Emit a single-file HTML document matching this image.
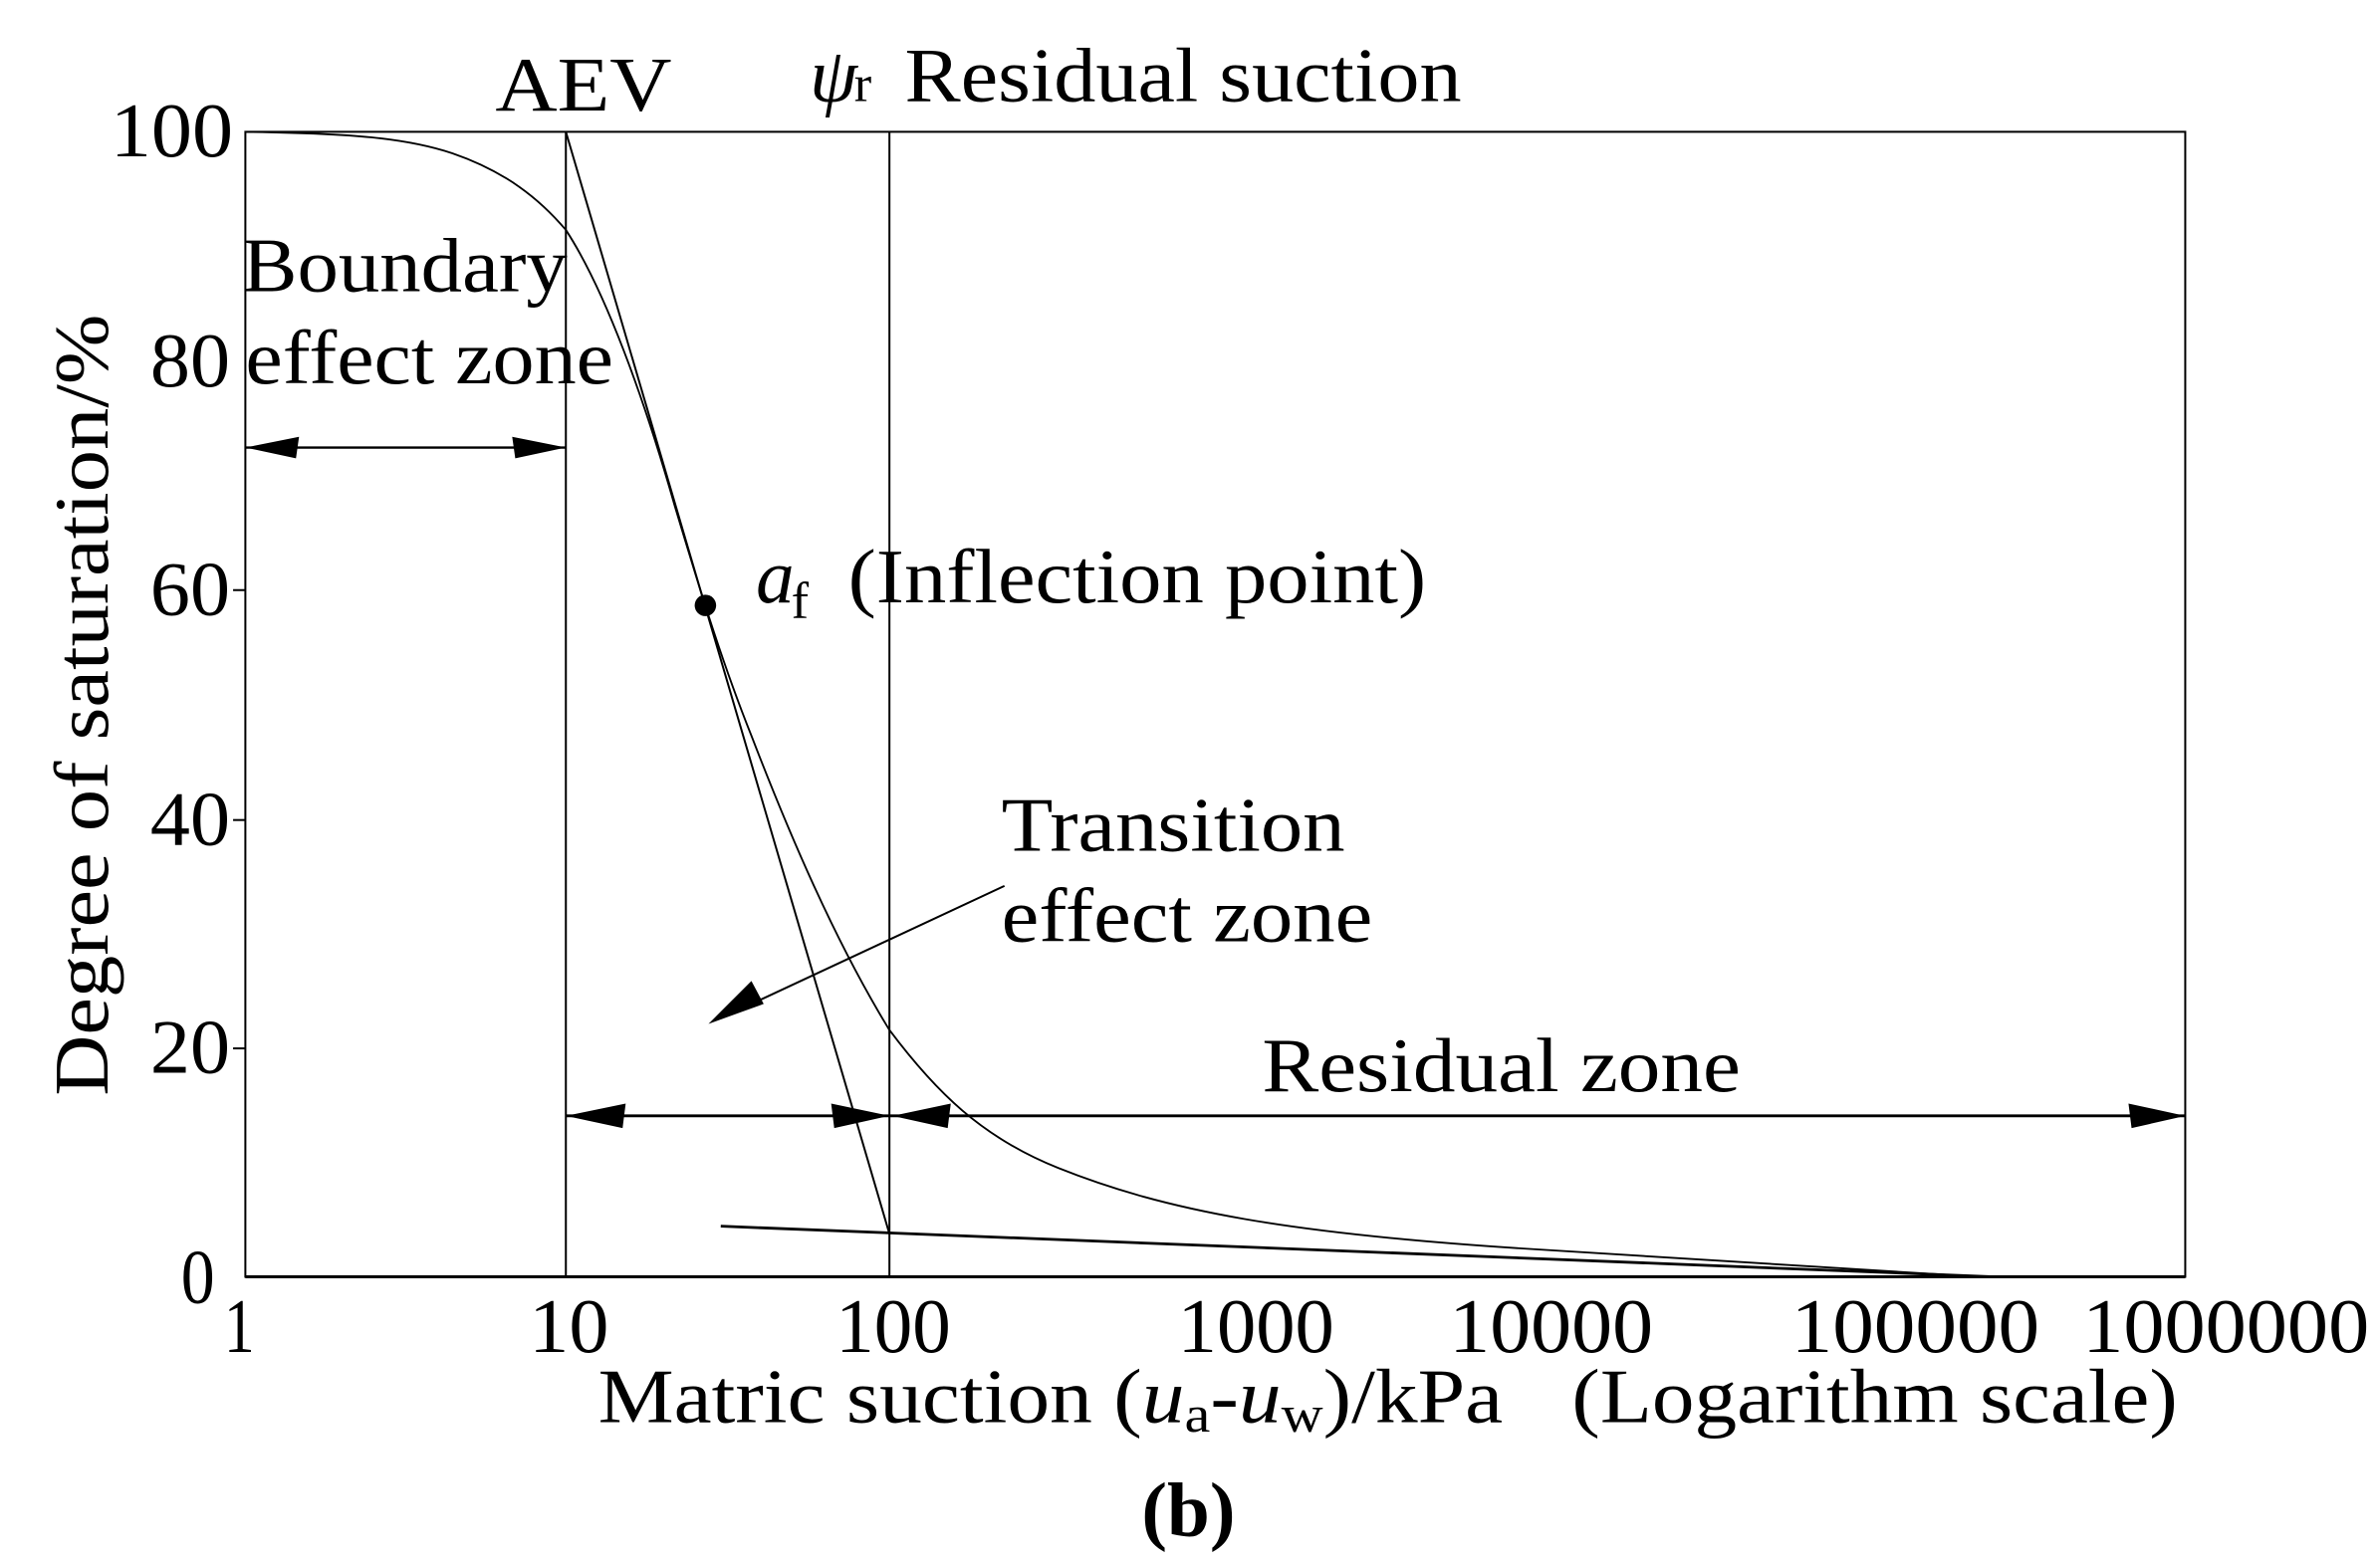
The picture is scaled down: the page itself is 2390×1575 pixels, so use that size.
<!DOCTYPE html>
<html><head><meta charset="utf-8"><style>
html,body{margin:0;padding:0;background:#fff;}
svg{display:block;}
text{font-family:"Liberation Serif",serif;fill:#000;}
</style></head><body>
<svg width="2390" height="1575" viewBox="0 0 1552 1023" preserveAspectRatio="none" xmlns="http://www.w3.org/2000/svg">
<rect x="0" y="0" width="1552" height="1023" fill="#fff"/>
<g stroke="#000" fill="none" stroke-width="1.3">
<rect x="160" y="86" width="1265" height="747"/>
<line x1="369" y1="86" x2="369" y2="833"/>
<line x1="580" y1="86" x2="580" y2="833"/>
<line x1="152" y1="385" x2="160" y2="385"/>
<line x1="152" y1="535" x2="160" y2="535"/>
<line x1="152" y1="684" x2="160" y2="684"/>
<line x1="160" y1="833" x2="1425" y2="833" stroke-width="2"/>
<path d="M160,86 C230,87 265,90 295,100 C330,112 352,130 369,150 C395,190 420,260 440,330 C455,380 470,430 490,480 C515,545 545,615 580,672 C610,712 640,742 690,762 C760,790 840,805 1000,815 C1150,824 1230,830 1290,833" stroke-width="1.2"/>
<line x1="369" y1="86" x2="580" y2="805"/>
<line x1="470" y1="800" x2="1300" y2="833" stroke-width="1.8"/>
<line x1="160" y1="292" x2="369" y2="292" stroke-width="1.6"/>
<line x1="369" y1="728" x2="1425" y2="728" stroke-width="1.8"/>
<line x1="655" y1="578" x2="475" y2="662" stroke-width="1.3"/>
</g>
<g fill="#000">
<circle cx="460" cy="395" r="7"/>
<polygon points="160,292 195,285 193,299"/>
<polygon points="369,292 334,285 336,299"/>
<polygon points="369,728 408,720 406,736"/>
<polygon points="580,728 542,720 544,736"/>
<polygon points="582,728 620,720 618,736"/>
<polygon points="1425,728 1388,720 1390,736"/>
<polygon points="462,668 490,640 498,655"/>
</g>
<g font-size="50">
<text x="323" y="72" textLength="115" lengthAdjust="spacingAndGlyphs">AEV</text>
<text x="528" y="66" font-style="italic">ψ</text><text x="557" y="66" font-size="34">r</text>
<text x="590" y="66" textLength="363" lengthAdjust="spacingAndGlyphs">Residual suction</text>
<text x="158" y="190" textLength="212" lengthAdjust="spacingAndGlyphs">Boundary</text>
<text x="160" y="250" textLength="240" lengthAdjust="spacingAndGlyphs">effect zone</text>
<text x="493" y="393" font-style="italic">a</text><text x="516" y="403" font-size="34">f</text>
<text x="553" y="393" textLength="377" lengthAdjust="spacingAndGlyphs">(Inflection point)</text>
<text x="653" y="555" textLength="224" lengthAdjust="spacingAndGlyphs">Transition</text>
<text x="653" y="614" textLength="242" lengthAdjust="spacingAndGlyphs">effect zone</text>
<text x="823" y="712" textLength="312" lengthAdjust="spacingAndGlyphs">Residual zone</text>
<text x="72" y="102" textLength="80" lengthAdjust="spacingAndGlyphs">100</text>
<text x="98" y="252" textLength="52" lengthAdjust="spacingAndGlyphs">80</text>
<text x="98" y="401" textLength="52" lengthAdjust="spacingAndGlyphs">60</text>
<text x="98" y="551" textLength="52" lengthAdjust="spacingAndGlyphs">40</text>
<text x="98" y="700" textLength="52" lengthAdjust="spacingAndGlyphs">20</text>
<text x="118" y="850" textLength="22" lengthAdjust="spacingAndGlyphs">0</text>
<text x="146" y="882" textLength="20" lengthAdjust="spacingAndGlyphs">1</text>
<text x="345" y="882" textLength="52" lengthAdjust="spacingAndGlyphs">10</text>
<text x="545" y="882" textLength="75" lengthAdjust="spacingAndGlyphs">100</text>
<text x="768" y="882" textLength="102" lengthAdjust="spacingAndGlyphs">1000</text>
<text x="945" y="882" textLength="133" lengthAdjust="spacingAndGlyphs">10000</text>
<text x="1168" y="882" textLength="162" lengthAdjust="spacingAndGlyphs">100000</text>
<text x="1358" y="882" textLength="187" lengthAdjust="spacingAndGlyphs">1000000</text>
<text x="390" y="928" textLength="590" lengthAdjust="spacingAndGlyphs">Matric suction (<tspan font-style="italic">u</tspan><tspan font-size="34" dy="6">a</tspan><tspan dy="-6">-</tspan><tspan font-style="italic">u</tspan><tspan font-size="34" dy="6">w</tspan><tspan dy="-6">)/kPa</tspan></text>
<text x="1025" y="928" textLength="395" lengthAdjust="spacingAndGlyphs">(Logarithm scale)</text>
<text x="775" y="1002" text-anchor="middle" font-weight="bold">(b)</text>
<text transform="translate(70,460) rotate(-90)" x="-255" y="0" textLength="510" lengthAdjust="spacingAndGlyphs">Degree of saturation/%</text>
</g>
</svg>
</body></html>
